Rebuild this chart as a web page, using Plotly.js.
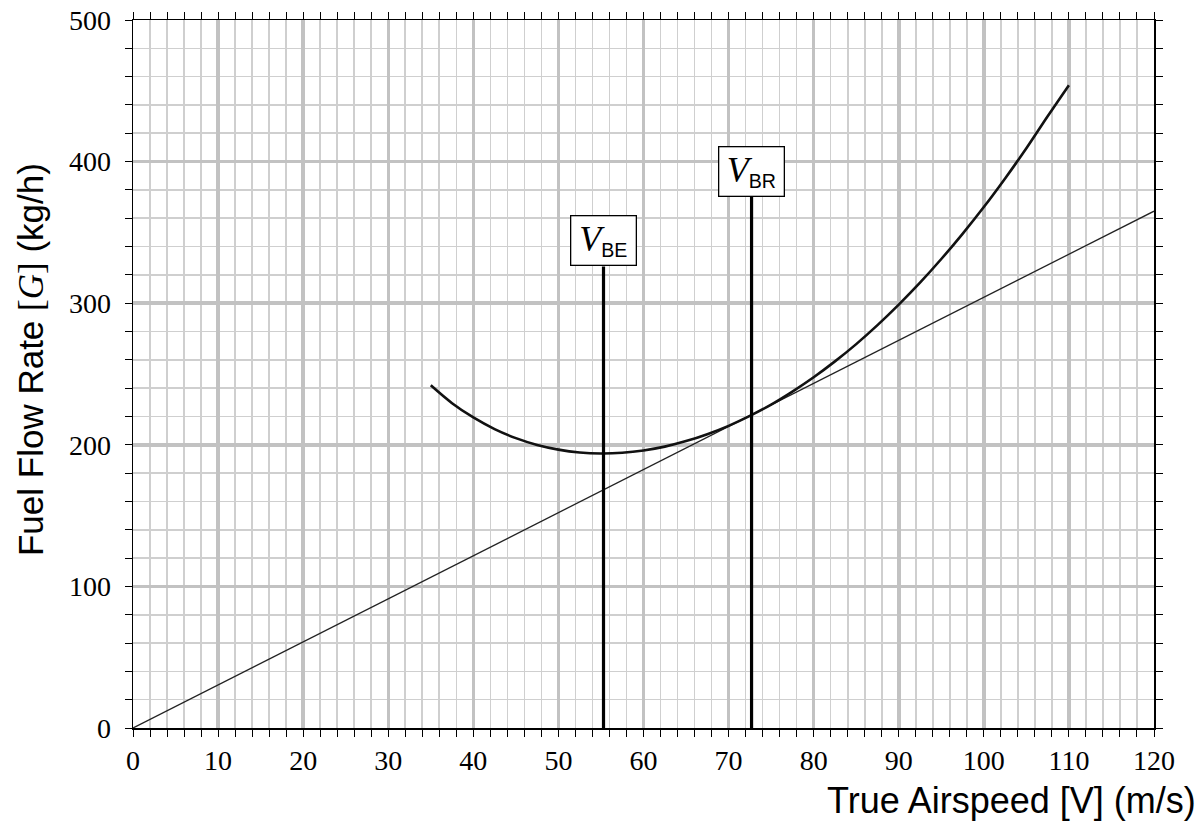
<!DOCTYPE html>
<html>
<head>
<meta charset="utf-8">
<script src="https://cdn.plot.ly/plotly-3.0.1.min.js"></script>
<style>html,body{margin:0;padding:0;background:#fff;}</style>
</head>
<body>
<div id="chart" style="width:1204px;height:825px;"></div>
<script>
// Fuel flow curve
const speedV = [35, 37.5, 40, 42.5, 45, 47.5, 50, 52.5, 55, 57.5, 60, 62.5, 65, 67.5, 70, 72.5, 75, 77.5, 80, 82.5, 85, 87.5, 90, 92.5, 95, 97.5, 100, 102.5, 105, 107.5, 110];
const fuelG  = [242, 229.4, 219.3, 211.1, 204.7, 199.9, 196.6, 194.6, 193.9, 194.4, 196.0, 198.7, 202.6, 207.5, 213.4, 220.4, 228.4, 237.6, 247.7, 258.9, 271.1, 284.5, 299.0, 314.5, 331.2, 349.0, 367.9, 388.1, 409.4, 432.0, 454];
// Tangent line from origin
const tangentV = [0, 120];
const tangentG = [0, 365];
// Characteristic speeds
const vBE = 55.3, vBEtop = 326;
const vBR = 72.7, vBRtop = 375;
const xTicks = [0,10,20,30,40,50,60,70,80,90,100,110,120];
const yTicks = [0,100,200,300,400,500];

const serif = 'Liberation Serif, DejaVu Serif, serif';
const sans = 'Liberation Sans, Arial, sans-serif';

const traces = [
  {x: tangentV, y: tangentG, mode: 'lines', line: {color: '#222', width: 1.3}, hoverinfo: 'skip'},
  {x: speedV, y: fuelG, mode: 'lines', line: {color: '#111', width: 2.6, shape: 'spline'}, hoverinfo: 'skip'},
  {x: [vBE, vBE], y: [0, vBEtop], mode: 'lines', line: {color: '#000', width: 3.2}, hoverinfo: 'skip'},
  {x: [vBR, vBR], y: [0, vBRtop], mode: 'lines', line: {color: '#000', width: 3.2}, hoverinfo: 'skip'}
];

function label(sub) {
  return '<span style="font-family:' + serif + ';font-style:italic;font-size:36px">V</span>' +
         '<sub>' + sub + '</sub>';
}

const axisCommon = {
  showline: true, linecolor: '#000', linewidth: 1.5, mirror: 'ticks',
  ticks: 'outside', ticklen: 7, tickcolor: '#000', tickwidth: 1,
  showgrid: true, gridcolor: '#c2c2c2', gridwidth: 3.5,
  zeroline: false,
  tickfont: {family: serif, size: 28, color: '#000'}
};

const layout = {
  width: 1204, height: 825,
  margin: {l: 133, r: 50, t: 20, b: 97},
  paper_bgcolor: '#fff', plot_bgcolor: '#fff',
  showlegend: false,
  xaxis: Object.assign({}, axisCommon, {
    range: [0, 120], tickvals: xTicks, ticktext: xTicks.map(String), ticklabelstandoff: 0,
    minor: {dtick: 2, showgrid: true, gridcolor: '#cfcfcf', gridwidth: 1.6, ticks: 'outside', ticklen: 7, tickcolor: '#000'}
  }),
  yaxis: Object.assign({}, axisCommon, {
    range: [0, 500], tickvals: yTicks, ticktext: yTicks.map(String), ticklabelstandoff: 8,
    minor: {dtick: 20, showgrid: true, gridcolor: '#cfcfcf', gridwidth: 1.6, ticks: 'outside', ticklen: 7, tickcolor: '#000'}
  }),
  annotations: [
    {xref: 'x', yref: 'y', x: vBE, y: vBEtop, yanchor: 'bottom', xanchor: 'center', showarrow: false,
     text: label('BE'), font: {family: sans, size: 28, color: '#000'},
     bgcolor: '#fff', bordercolor: '#000', borderwidth: 1.3, width: 62, height: 46, valign: 'middle'},
    {xref: 'x', yref: 'y', x: vBR, y: vBRtop, yanchor: 'bottom', xanchor: 'center', showarrow: false,
     text: label('BR'), font: {family: sans, size: 28, color: '#000'},
     bgcolor: '#fff', bordercolor: '#000', borderwidth: 1.3, width: 62, height: 46, valign: 'middle'},
    {xref: 'paper', yref: 'paper', x: 1.043, xanchor: 'right', y: -0.1017, yanchor: 'middle', showarrow: false,
     text: 'True Airspeed [V] (m/s)', font: {family: sans, size: 36, color: '#000'}},
    {xref: 'paper', yref: 'paper', x: -0.1, xanchor: 'center', y: 0.521, yanchor: 'middle', showarrow: false, textangle: -90,
     text: 'Fuel Flow Rate <span style="font-family:' + serif + '">[<i>G</i>]</span> (kg/h)', font: {family: sans, size: 35, color: '#000'}}
  ]
};

Plotly.newPlot('chart', traces, layout, {staticPlot: true, displayModeBar: false});
</script>
</body>
</html>
